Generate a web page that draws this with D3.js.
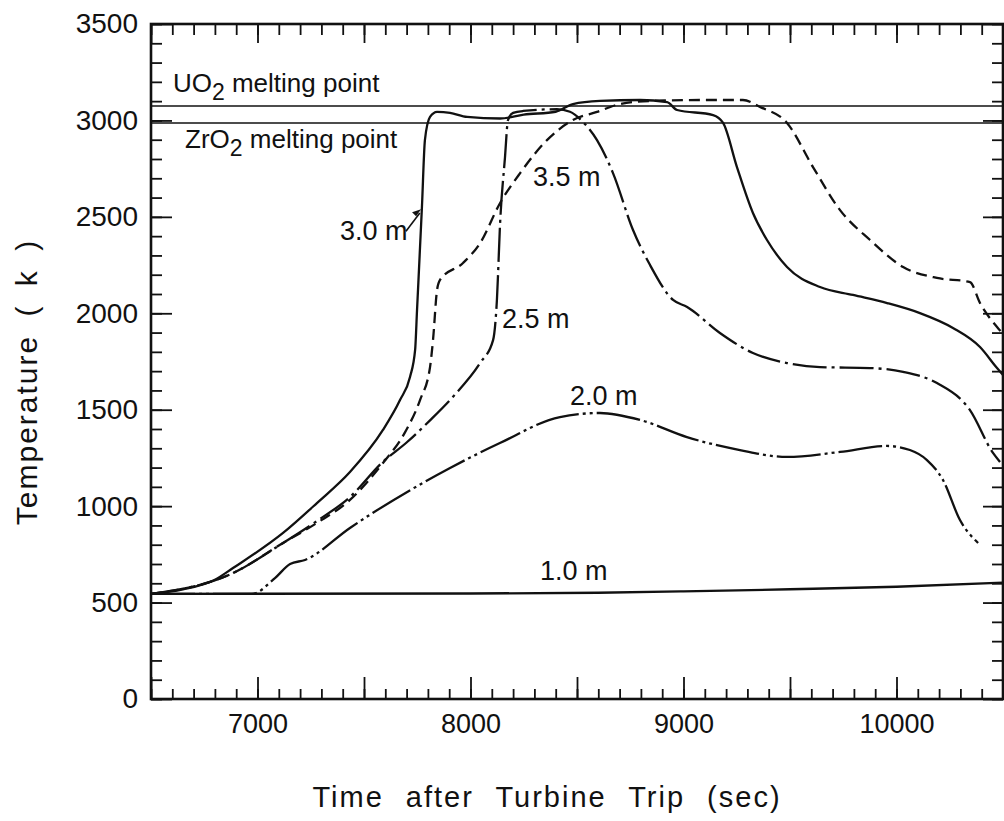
<!DOCTYPE html>
<html>
<head>
<meta charset="utf-8">
<script src="https://cdn.jsdelivr.net/npm/d3@7"></script>
<style>
  body { margin: 0; background: #fff; }
  text { font-family: "Liberation Sans", Arial, sans-serif; fill: #111; }
</style>
</head>
<body>
<svg id="chart"></svg>
<script>
// time (s) vs temperature (K)
let curve10 = [[6500,545],[8000,547],[8600,551],[9000,558],[9500,569],[10000,582],[10500,603]];

let curve20 = [[6500,545],[6974,545],[7082,627],[7153,700],[7223,721],[7434,887],[7904,1198],
  [8138,1327],[8420,1462],[8608,1483],[8796,1447],[9016,1358],[9265,1291],[9486,1255],
  [9735,1281],[9955,1312],[10063,1291],[10143,1239],[10218,1136],[10298,928],[10383,809]];

let curve25 = [[6500,545],[6885,653],[7120,809],[7279,923],[7434,1047],[7589,1230],[7700,1330],
  [7810,1445],[7920,1570],[8045,1742],[8106,1861],[8124,2069],[8139,2468],[8162,2810],
  [8176,3002],[8200,3039],[8247,3049],[8406,3058],[8467,3045],[8528,2992],[8594,2898],
  [8669,2727],[8763,2432],[8843,2250],[8951,2069],[9017,2033],[9171,1898],[9326,1794],
  [9486,1742],[9641,1721],[9876,1716],[10031,1696],[10190,1638],[10345,1498],[10453,1276],[10486,1229]];

let curve30 = [[6500,545],[6650,568],[6800,618],[6885,679],[7120,861],[7279,1016],[7434,1177],
  [7589,1395],[7669,1550],[7716,1670],[7740,1810],[7749,2017],[7772,2551],[7786,2898],
  [7810,3018],[7843,3044],[7904,3039],[7984,3018],[8139,3010],[8250,3030],[8400,3045],
  [8481,3085],[8608,3101],[8796,3106],[8923,3095],[8970,3054],[9139,3028],[9186,2987],
  [9251,2758],[9326,2520],[9392,2380],[9486,2240],[9641,2136],[9796,2095],[9956,2053],
  [10110,2001],[10265,1924],[10392,1825],[10472,1716],[10500,1680]];

let curve35 = [[6500,545],[6885,653],[7120,809],[7279,913],[7434,1032],[7589,1224],[7693,1384],
  [7763,1550],[7810,1721],[7824,1861],[7843,2121],[7857,2173],[7965,2261],[8045,2364],
  [8139,2572],[8233,2727],[8359,2898],[8481,3002],[8594,3044],[8702,3085],[8843,3101],
  [9078,3106],[9279,3106],[9359,3070],[9486,2987],[9608,2758],[9735,2535],[9876,2380],
  [10031,2240],[10190,2183],[10345,2162],[10392,2053],[10472,1929],[10500,1893]];

let meltUO2 = 3075;
let meltZrO2 = 2987;

let yTickLabels = [0, 500, 1000, 1500, 2000, 2500, 3000, 3500];
let xTickLabels = [7000, 8000, 9000, 10000];

let width = 1004;
let height = 821;
let margin = { left: 151, right: 1, top: 24, bottom: 122 };

let svg = d3.select("#chart").attr("width", width).attr("height", height);

let xScale = d3.scaleLinear().domain([6500, 10500]).range([margin.left, width - margin.right]);
let yScale = d3.scaleLinear().domain([0, 3500]).range([height - margin.bottom, margin.top]);

let line = d3.line()
  .x((d) => xScale(d[0]))
  .y((d) => yScale(d[1]))
  .curve(d3.curveMonotoneX);

let drawAxes = () => {
  let xMinor = d3.range(6500, 10501, 100);
  let xMajor = d3.range(6500, 10501, 500);
  let yMinor = d3.range(0, 3501, 100);
  let yMajor = d3.range(0, 3501, 500);
  let bottom = height - margin.bottom;
  let right = width - margin.right;

  let add = (axis, tx, ty) => {
    let g = svg.append("g").attr("transform", "translate(" + tx + "," + ty + ")").call(axis);
    g.select(".domain").remove();
    g.selectAll(".tick line").attr("stroke", "#111").attr("stroke-width", 1.8);
    return g;
  };

  add(d3.axisBottom(xScale).tickValues(xMinor).tickSize(-10).tickFormat(""), 0, bottom);
  let xb = add(d3.axisBottom(xScale).tickValues(xMajor).tickSize(-22).tickPadding(15)
    .tickFormat((d) => (xTickLabels.includes(d) ? d : "")), 0, bottom);
  xb.selectAll("text").attr("font-size", 27);

  add(d3.axisTop(xScale).tickValues(xMinor).tickSize(-11).tickFormat(""), 0, margin.top);
  add(d3.axisTop(xScale).tickValues(xMajor).tickSize(-19).tickFormat(""), 0, margin.top);

  add(d3.axisLeft(yScale).tickValues(yMinor).tickSize(-11).tickFormat(""), margin.left, 0);
  let yl = add(d3.axisLeft(yScale).tickValues(yMajor).tickSize(-21).tickPadding(13)
    .tickFormat((d) => (yTickLabels.includes(d) ? d : "")), margin.left, 0);
  yl.selectAll("text").attr("font-size", 28);

  add(d3.axisRight(yScale).tickValues(yMinor).tickSize(-11).tickFormat(""), right, 0);
  add(d3.axisRight(yScale).tickValues(yMajor).tickSize(-20).tickFormat(""), right, 0);

  svg.append("rect")
    .attr("x", margin.left).attr("y", margin.top)
    .attr("width", right - margin.left).attr("height", bottom - margin.top)
    .attr("fill", "none").attr("stroke", "#111").attr("stroke-width", 2.6);
};

let drawMelting = () => {
  [meltUO2, meltZrO2].forEach((v) => {
    svg.append("line")
      .attr("x1", xScale(6500)).attr("x2", xScale(10500))
      .attr("y1", yScale(v)).attr("y2", yScale(v))
      .attr("stroke", "#111").attr("stroke-width", 1.6);
  });

  let t1 = svg.append("text").attr("x", xScale(6603)).attr("y", yScale(3147))
    .attr("font-size", 26);
  t1.append("tspan").text("UO");
  t1.append("tspan").attr("dy", 8).attr("font-size", 23).text("2");
  t1.append("tspan").attr("dy", -8).text(" melting point");

  let t2 = svg.append("text").attr("x", xScale(6660)).attr("y", yScale(2857))
    .attr("font-size", 26);
  t2.append("tspan").text("ZrO");
  t2.append("tspan").attr("dy", 8).attr("font-size", 23).text("2");
  t2.append("tspan").attr("dy", -8).text(" melting point");
};

let drawCurves = () => {
  let series = [
    { data: curve10, dash: null },
    { data: curve20, dash: "44,4,3,4,3,4" },
    { data: curve25, dash: "34,5,3,5" },
    { data: curve30, dash: null },
    { data: curve35, dash: "11,6" }
  ];
  series.forEach((s) => {
    svg.append("path")
      .datum(s.data)
      .attr("d", line)
      .attr("fill", "none")
      .attr("stroke", "#111")
      .attr("stroke-width", 2.3)
      .attr("stroke-linejoin", "round")
      .attr("stroke-dasharray", s.dash);
  });
};

let drawLabels = () => {
  let labels = [
    { text: "3.0 m", t: 7387, T: 2380 },
    { text: "3.5 m", t: 8293, T: 2660 },
    { text: "2.5 m", t: 8148, T: 1924 },
    { text: "2.0 m", t: 8467, T: 1524 },
    { text: "1.0 m", t: 8326, T: 617 }
  ];
  labels.forEach((l) => {
    svg.append("text")
      .attr("x", xScale(l.t)).attr("y", yScale(l.T))
      .attr("font-size", 27)
      .text(l.text);
  });

  // leader from the 3.0 m label to its curve
  svg.append("line")
    .attr("x1", xScale(7697)).attr("y1", yScale(2425))
    .attr("x2", xScale(7762)).attr("y2", yScale(2520))
    .attr("stroke", "#111").attr("stroke-width", 1.6);
  let ax = xScale(7768), ay = yScale(2540);
  svg.append("path")
    .attr("d", "M" + ax + "," + ay + " l-9,3 l4,4 z")
    .attr("fill", "#111");
};

let drawTitles = () => {
  svg.append("text")
    .attr("x", 547).attr("y", 807)
    .attr("text-anchor", "middle")
    .attr("font-size", 29)
    .attr("letter-spacing", 2)
    .attr("word-spacing", 12)
    .text("Time after Turbine Trip  (sec)");

  svg.append("text")
    .attr("transform", "translate(37,382) rotate(-90)")
    .attr("text-anchor", "middle")
    .attr("font-size", 30)
    .attr("letter-spacing", 2)
    .attr("word-spacing", 8)
    .text("Temperature  ( k )");
};

drawAxes();
drawMelting();
drawCurves();
drawLabels();
drawTitles();
</script>
</body>
</html>
